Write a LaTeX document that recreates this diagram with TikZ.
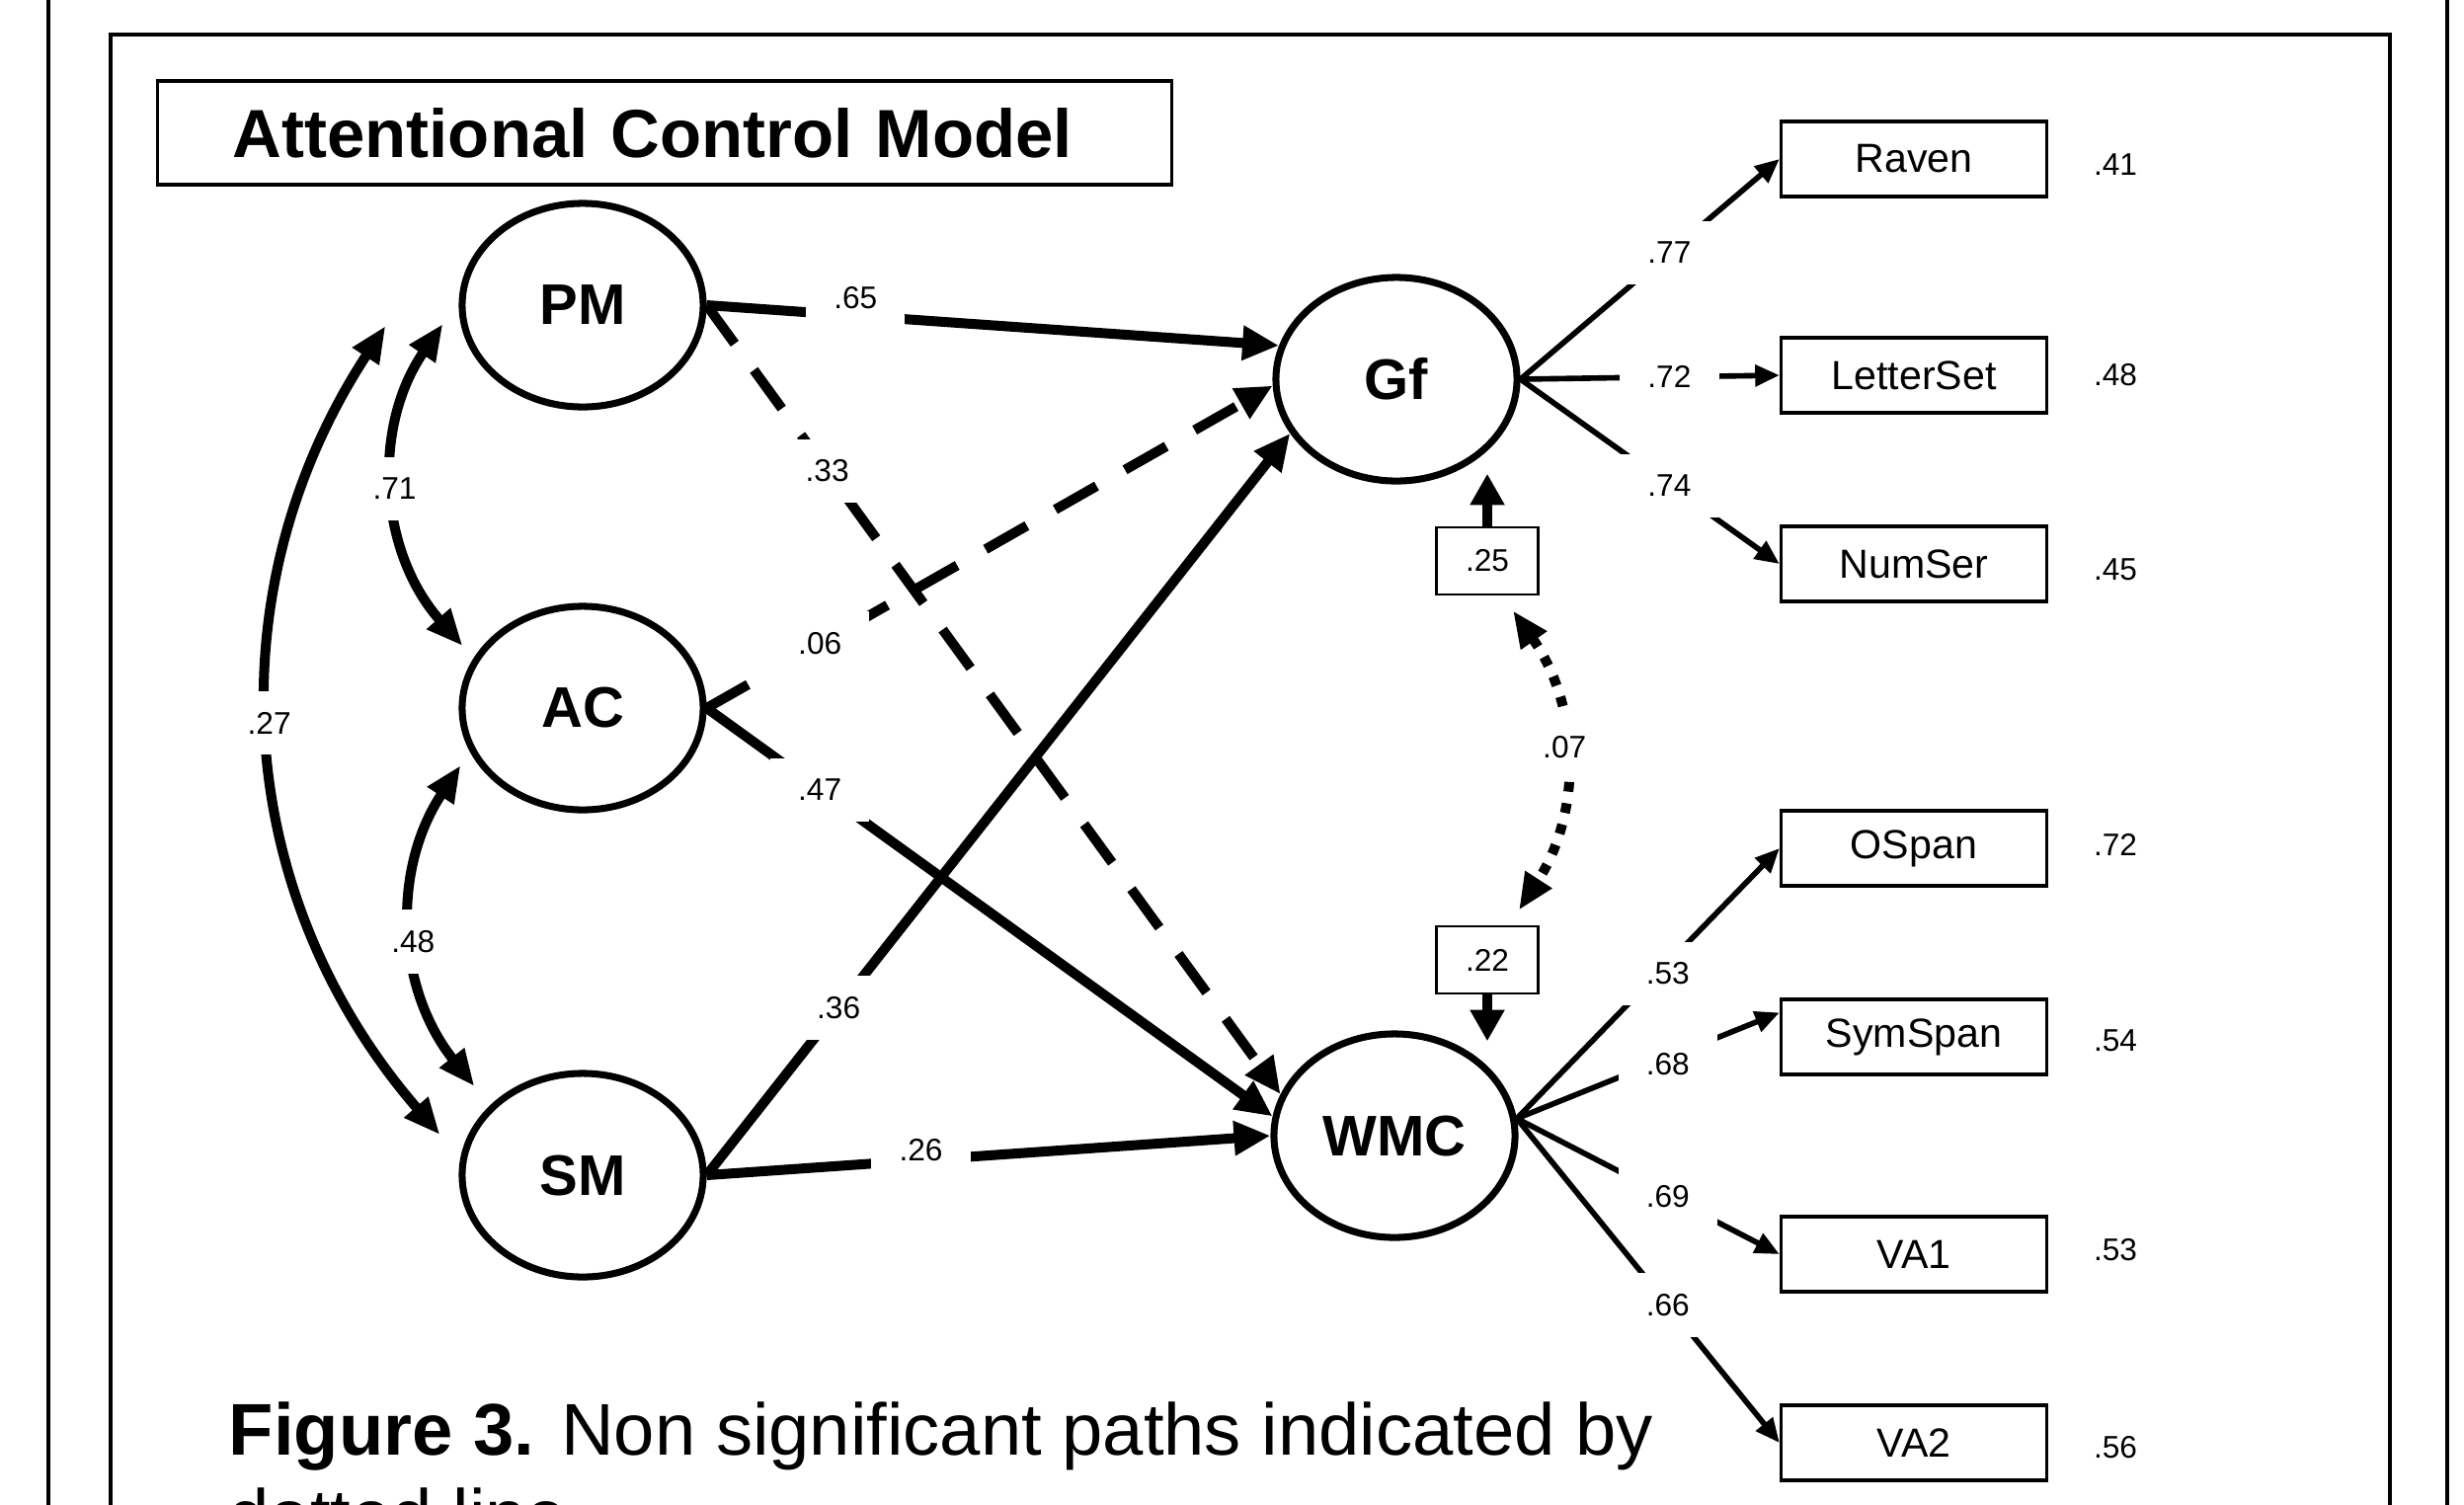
\documentclass[tikz,border=0pt]{standalone}
\usepackage{fontspec}
\setmainfont{Liberation Sans}
\usetikzlibrary{arrows.meta,shapes.geometric,calc,positioning}

\tikzset{
  latent/.style={ellipse,draw,line width=2pt,minimum width=2.44cm,minimum height=2.06cm,inner sep=0pt,font=\fontsize{16.5}{18}\selectfont\bfseries},
  obs/.style={rectangle,draw,line width=0.9pt,minimum width=2.69cm,minimum height=0.76cm,inner sep=0pt,font=\fontsize{11.7}{13}\selectfont},
  resid/.style={rectangle,draw,line width=0.8pt,minimum width=1.03cm,minimum height=0.68cm,inner sep=0pt,font=\fontsize{9}{10}\selectfont},
  num/.style={font=\fontsize{9}{10}\selectfont,inner sep=1pt},
  lbl/.style={num,fill=white,inner xsep=8pt,inner ysep=6pt},
  regpath/.style={line width=2.85pt,-{Triangle[length=10.5pt,width=9.4pt]}},
  nsig/.style={regpath,dash pattern=on 13.7pt off 9.4pt},
  load/.style={line width=1.6pt,-{Triangle[length=7pt,width=6pt]}},
  cov/.style={line width=2.85pt,{Triangle[length=10.5pt,width=8.5pt]}-{Triangle[length=10.5pt,width=8.5pt]}},
  rescov/.style={cov,dash pattern=on 2.8pt off 3.4pt},
  resarrow/.style={line width=3pt,-{Triangle[length=9pt,width=9.4pt]}}
}

\begin{document}
\begin{tikzpicture}[x=0.01cm,y=-0.01cm]
\useasboundingbox (0,0) rectangle (2495,1523);
\clip (0,0) rectangle (2495,1523);

% frames
\draw[line width=0.9pt] (49,-10) -- (49,1600);
\draw[line width=0.9pt] (2478,-10) -- (2478,1600);
\draw[line width=0.9pt] (112,1600) -- (112,35) -- (2420,35) -- (2420,1600);

% title
\node[draw,line width=0.9pt,minimum height=1.05cm,inner xsep=0.76cm,text width=8.74cm,align=left,font=\fontsize{19.6}{24}\selectfont\bfseries] (title) at (673,134.5) {Attentional Control Model};

% latent variables
\node[latent] (PM) at (590,309) {PM};
\node[latent] (AC) at (590,717) {AC};
\node[latent] (SM) at (590,1190) {SM};
\node[latent] (Gf) at (1414,384) {Gf};
\node[latent] (WMC) at (1412,1150) {WMC};

% indicators
\node[obs] (raven) at (1938,161) {Raven};
\node[obs] (letterset) at (1938,380) {LetterSet};
\node[obs] (numser) at (1938,571) {NumSer};
\node[obs] (ospan) at (1938,859) {OSpan};
\node[obs] (symspan) at (1938,1050) {SymSpan};
\node[obs] (va1) at (1938,1270) {VA1};
\node[obs] (va2) at (1938,1461) {VA2};

% squared multiple correlations
\node[num] (sqraven) at (2142,167) {.41};
\node[num] (sqletterset) at (2142,380) {.48};
\node[num] (sqnumser) at (2142,577) {.45};
\node[num] (sqospan) at (2142,855) {.72};
\node[num] (sqsymspan) at (2142,1054) {.54};
\node[num] (sqva1) at (2142,1266) {.53};
\node[num] (sqva2) at (2142,1466) {.56};

% residual boxes
\node[resid] (r25) at (1506,568) {.25};
\node[resid] (r22) at (1506,972) {.22};

% structural paths
\draw[regpath] (PM.east) -- node[lbl,pos=0.26,yshift=5pt] {.65} (Gf.164);
\draw[nsig] (PM.east) -- node[lbl,pos=0.21] {.33} (WMC.160);
\draw[nsig] (AC.east) -- node[lbl,pos=0.2] {.06} (Gf.183);
\draw[regpath] (AC.east) -- node[lbl,pos=0.2] {.47} (WMC.171);
\draw[regpath] (SM.east) -- node[lbl,pos=0.226] {.36} (Gf.207);
\draw[regpath] (SM.east) -- node[lbl,pos=0.38,yshift=3pt] {.26} (WMC.west);

% loadings
\draw[load] (Gf.east) -- node[lbl,pos=0.575] {.77} (raven.west);
\draw[load] (Gf.east) -- node[lbl,pos=0.575] {.72} (letterset.west);
\draw[load] (Gf.east) -- node[lbl,pos=0.575] {.74} (numser.west);
\draw[load] (WMC.8) -- node[lbl,pos=0.575,yshift=-3pt] {.53} (ospan.west);
\draw[load] (WMC.8) -- node[lbl,pos=0.575,yshift=-2pt] {.68} ([yshift=7pt]symspan.west);
\draw[load] (WMC.8) -- node[lbl,pos=0.575] {.69} (va1.west);
\draw[load] (WMC.8) -- node[lbl,pos=0.575] {.66} (va2.west);

% correlations
\draw[cov] ($(PM.west)+(-16,19)$) to[bend right=38] node[lbl] {.71} ($(AC.west)+(4,-63)$);
\draw[cov] ($(AC.west)+(2,58)$) to[bend right=36] node[lbl,pos=0.54] {.48} ($(SM.west)+(16,-90)$);
\draw[cov] ($(PM.west)+(-74,21)$) to[bend right=37] node[lbl,pos=0.48] {.27} ($(SM.west)+(-19,-41)$);
\draw[rescov] ($(r25.south)+(26,15)$) to[bend left=34] node[lbl,pos=0.46] {.07} ($(r22.north)+(32,-15)$);

% residual arrows
\draw[resarrow] (r25.north) -- (r25.north |- Gf.-60);
\draw[resarrow] (r22.south) -- (r22.south |- WMC.60);

% caption
\node[anchor=base west,inner sep=0pt,font=\fontsize{21.1}{26}\selectfont] (cap) at (231,1473) {\textbf{Figure 3.} Non significant paths indicated by};
\node[anchor=base west,inner sep=0pt,font=\fontsize{21.1}{26}\selectfont] (cap2) at (231,1560) {dotted line};
\end{tikzpicture}
\end{document}
